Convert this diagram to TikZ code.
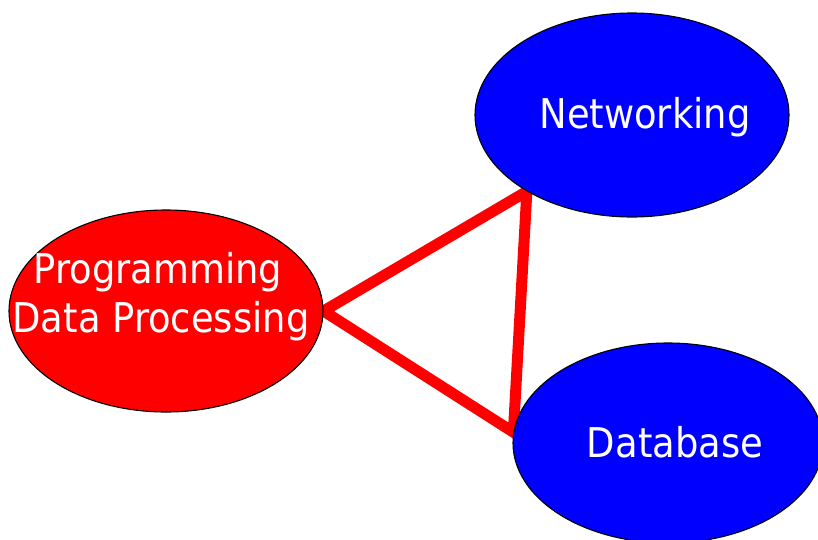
\documentclass[tikz,border=0pt]{standalone}
\usepackage{fontspec}
\newfontfamily\lbl{DejaVu Sans}[FakeStretch=0.9]
\usetikzlibrary{shapes.geometric,backgrounds}
\definecolor{nodered}{RGB}{255,0,0}
\definecolor{nodeblue}{RGB}{0,0,255}
\definecolor{linkred}{RGB}{255,0,0}
\tikzset{
  bubble/.style={ellipse, draw=black, line width=1.1pt, inner sep=0pt},
  lbltext/.style={text=white, anchor=base, inner sep=0pt, font=\lbl\fontsize{41}{49}\selectfont},
  link/.style={draw=linkred, line width=11pt, line join=miter}
}
\begin{document}
\begin{tikzpicture}[x=1pt,y=-1pt]
\useasboundingbox (0,0) rectangle (818,539);
\clip (0,0) rectangle (818,539);
\node[bubble, fill=nodered, minimum width=314pt, minimum height=202pt] (prog) at (166,311) {};
\node[bubble, fill=nodeblue, minimum width=314pt, minimum height=204pt] (net) at (632,115) {};
\node[bubble, fill=nodeblue, minimum width=310pt, minimum height=200pt] (db) at (668,443) {};
\node[lbltext] (progA) at (158,283) {Programming};
\node[lbltext] (progB) at (161,332) {Data Processing};
\node[lbltext] (netT) at (645,128) {Networking};
\node[lbltext] (dbT) at (675,457) {Database};
\begin{pgfonlayer}{background}
\draw[link] (prog.east) -- (net.216) -- (db.176) -- cycle;
\end{pgfonlayer}
\end{tikzpicture}
\end{document}
